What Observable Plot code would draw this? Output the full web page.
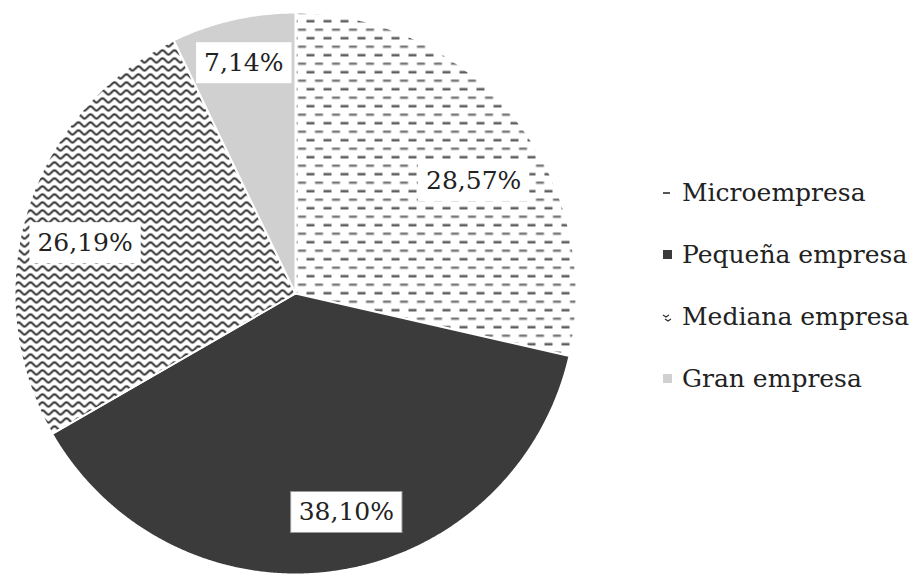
<!DOCTYPE html>
<html>
<head>
<meta charset="utf-8">
<script src="https://cdn.jsdelivr.net/npm/d3@7"></script>
<script src="https://cdn.jsdelivr.net/npm/@observablehq/plot@0.6"></script>
<style>
  html, body { margin: 0; padding: 0; background: #fff; }
  #wrap { position: relative; width: 917px; height: 578px; overflow: hidden; }
  #legend { position: absolute; left: 662px; top: 161px; font-family: "DejaVu Serif", serif; font-size: 25px; color: #222; white-space: nowrap; }
  .row { display: flex; align-items: center; height: 62px; }
  .sw { width: 11px; height: 11px; margin-right: 9px; display: inline-block; }
</style>
</head>
<body>
<div id="wrap"><div id="legend"></div></div>
<script>
// ---- data ----
const categories = ["Microempresa", "Pequeña empresa", "Mediana empresa", "Gran empresa"];
const values = [28.57, 38.10, 26.19, 7.14];
const labels = ["28,57%", "38,10%", "26,19%", "7,14%"];

// ---- styles / layout ----
const fills = ["url(#pMicro)", "#3b3b3b", "url(#pMediana)", "#d0d0d0"];
const boxStrokes = ["none", "#999", "none", "none"];
const labelRadius = [0.75, 0.80, 0.77, 0.84];
const labelNudgeDeg = [6.3, -4.5, -3.7, 0.2];

const arcs = d3.pie().sort(null).value(d => d)(values);
const poly = [];
arcs.forEach((a, i) => {
  poly.push({k: i, x: 0, y: 0, f: fills[i]});
  const n = Math.max(2, Math.ceil((a.endAngle - a.startAngle) / 0.005));
  for (let j = 0; j <= n; j++) {
    const t = a.startAngle + (a.endAngle - a.startAngle) * j / n;
    poly.push({k: i, x: Math.sin(t), y: Math.cos(t), f: fills[i]});
  }
  poly.push({k: i, x: 0, y: 0, f: fills[i]});
});
const labelData = arcs.map((a, i) => {
  const t = (a.startAngle + a.endAngle) / 2 + labelNudgeDeg[i] * Math.PI / 180;
  return {x: labelRadius[i] * Math.sin(t), y: labelRadius[i] * Math.cos(t), text: labels[i]};
});

const cx = 295, cy = 293, r = 281;
const chart = Plot.plot({
  width: 917, height: 578,
  margin: 0,
  x: {domain: [-1, 1], range: [cx - r, cx + r], axis: null},
  y: {domain: [-1, 1], range: [cy + r, cy - r], axis: null},
  color: {type: "identity"},
  style: {background: "transparent"},
  marks: [
    Plot.line(poly, {x: "x", y: "y", z: "k", fill: "f", stroke: "#fff", strokeWidth: 2, strokeLinejoin: "round"}),
    Plot.text(labelData, {x: "x", y: "y", text: "text", className: "pie-label", fontFamily: "DejaVu Serif", fontSize: 25, fill: "#222"})
  ]
});
document.getElementById("wrap").prepend(chart);

// patterns
const svg = d3.select(chart);
const defs = svg.insert("defs", ":first-child");
const pm = defs.append("pattern").attr("id", "pMicro").attr("patternUnits", "userSpaceOnUse")
  .attr("width", 17).attr("height", 17);
pm.append("rect").attr("width", 17).attr("height", 17).attr("fill", "#fff");
pm.append("rect").attr("x", 0).attr("y", 2.5).attr("width", 8).attr("height", 2.4).attr("fill", "#555");
pm.append("rect").attr("x", 8.5).attr("y", 11).attr("width", 8).attr("height", 2.4).attr("fill", "#777");
const pw = defs.append("pattern").attr("id", "pMediana").attr("patternUnits", "userSpaceOnUse")
  .attr("width", 12).attr("height", 8);
pw.append("rect").attr("width", 12).attr("height", 8).attr("fill", "#fff");
pw.append("path").attr("d", "M-1,6.5 C1.5,6.5 4,1.8 6,1.8 C8,1.8 10.5,6.5 13,6.5")
  .attr("fill", "none").attr("stroke", "#2b2b2b").attr("stroke-width", 1.9);

// label boxes
chart.querySelectorAll(".pie-label text").forEach((t, i) => {
  const b = t.getBBox();
  const rect = document.createElementNS("http://www.w3.org/2000/svg", "rect");
  rect.setAttribute("x", b.x - 8);
  rect.setAttribute("y", b.y - 6);
  rect.setAttribute("width", b.width + 16);
  rect.setAttribute("height", b.height + 12);
  rect.setAttribute("fill", "#fff");
  rect.setAttribute("stroke", boxStrokes[i]);
  rect.setAttribute("stroke-width", 1);
  const tr = t.getAttribute("transform");
  if (tr) rect.setAttribute("transform", tr);
  t.parentNode.insertBefore(rect, t);
});

// legend
const legend = document.getElementById("legend");
const swatches = [
  '<svg class="sw" viewBox="0 0 11 11"><rect x="1" y="5" width="7" height="2" fill="#555"/></svg>',
  '<svg class="sw" viewBox="0 0 11 11"><rect x="1" y="1" width="9" height="9" fill="#3b3b3b"/></svg>',
  '<svg class="sw" viewBox="0 0 11 11"><path d="M1,4 L4,6 L7,4 M3,8 L6,10 L9,8" fill="none" stroke="#333" stroke-width="1.3"/></svg>',
  '<svg class="sw" viewBox="0 0 11 11"><rect x="1" y="1" width="9" height="9" fill="#d0d0d0"/></svg>'
];
categories.forEach((c, i) => {
  const row = document.createElement("div");
  row.className = "row";
  row.innerHTML = swatches[i] + '<span>' + c + '</span>';
  legend.appendChild(row);
});
</script>
</body>
</html>
